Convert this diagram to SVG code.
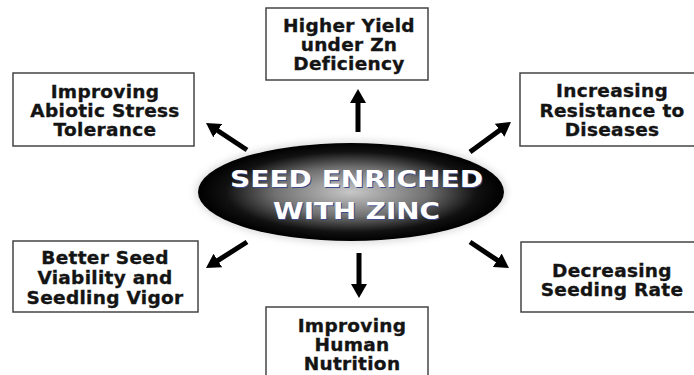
<svg xmlns="http://www.w3.org/2000/svg" width="694" height="375" viewBox="0 0 694 375">
<style>
.box{fill:#fff;stroke:#444;stroke-width:1.5}
.lbl{font-family:"DejaVu Sans","Verdana",sans-serif;font-weight:bold;font-size:18.5px;fill:#141414;stroke:#141414;stroke-width:0.35;text-anchor:middle;letter-spacing:0.3px}
.ctr{font-family:"DejaVu Sans","Verdana",sans-serif;font-weight:bold;font-size:23.5px;text-anchor:middle}
.arr{stroke:#000;stroke-width:5;fill:none;marker-end:url(#head)}
</style>
<defs>
<radialGradient id="g" cx="50%" cy="50%" r="50%">
<stop offset="0" stop-color="#c8c8c8"/>
<stop offset="0.5" stop-color="#707070"/>
<stop offset="0.82" stop-color="#111"/>
<stop offset="1" stop-color="#000"/>
</radialGradient>
<filter id="blur" x="-10%" y="-20%" width="120%" height="140%"><feGaussianBlur stdDeviation="3"/></filter>
<marker id="head" markerUnits="userSpaceOnUse" markerWidth="14" markerHeight="16" viewBox="0 0 14 16" refX="3" refY="8" orient="auto">
<path d="M0,0 L14,8 L0,16 z" fill="#000"/>
</marker>
</defs>
<rect width="694" height="375" fill="#fff"/>
<g id="connectors">
<line class="arr" x1="358" y1="132" x2="358" y2="100"/>
<line class="arr" x1="359" y1="253" x2="359" y2="287"/>
<line class="arr" x1="247" y1="150" x2="215.2" y2="129"/>
<line class="arr" x1="470" y1="152" x2="502.1" y2="128.5"/>
<line class="arr" x1="247" y1="242" x2="215.3" y2="262.1"/>
<line class="arr" x1="470" y1="242" x2="499.8" y2="261.9"/>
</g>
<g id="center">
<ellipse cx="351" cy="192" rx="156" ry="52" fill="#ccc" filter="url(#blur)" opacity="0.6"/>
<ellipse cx="351" cy="192" rx="153" ry="49" fill="url(#g)"/>
<text class="ctr" x="357.5" y="188" fill="#3a4a8a" textLength="253" lengthAdjust="spacingAndGlyphs">SEED ENRICHED</text>
<text class="ctr" x="357.5" y="219.5" fill="#3a4a8a" textLength="167" lengthAdjust="spacingAndGlyphs">WITH ZINC</text>
<text class="ctr" x="356.5" y="187" fill="#fff" textLength="253" lengthAdjust="spacingAndGlyphs">SEED ENRICHED</text>
<text class="ctr" x="356.5" y="218.5" fill="#fff" textLength="167" lengthAdjust="spacingAndGlyphs">WITH ZINC</text>
</g>
<g id="n-top">
<rect class="box" x="266" y="8" width="162" height="72"/>
<text class="lbl" x="349" y="32">Higher Yield</text>
<text class="lbl" x="349" y="51">under Zn</text>
<text class="lbl" x="349" y="70">Deficiency</text>
</g>
<g id="n-upleft">
<rect class="box" x="13" y="73" width="181" height="73"/>
<text class="lbl" x="105" y="98">Improving</text>
<text class="lbl" x="105" y="117">Abiotic Stress</text>
<text class="lbl" x="105" y="136">Tolerance</text>
</g>
<g id="n-upright">
<rect class="box" x="520" y="73" width="180" height="73"/>
<text class="lbl" x="612" y="97">Increasing</text>
<text class="lbl" x="612" y="117">Resistance to</text>
<text class="lbl" x="612" y="136">Diseases</text>
</g>
<g id="n-lowleft">
<rect class="box" x="13" y="241" width="185" height="71"/>
<text class="lbl" x="105" y="264">Better Seed</text>
<text class="lbl" x="105" y="284">Viability and</text>
<text class="lbl" x="105" y="304">Seedling Vigor</text>
</g>
<g id="n-lowright">
<rect class="box" x="521" y="242" width="180" height="70"/>
<text class="lbl" x="612" y="277">Decreasing</text>
<text class="lbl" x="612" y="296">Seeding Rate</text>
</g>
<g id="n-bottom">
<rect class="box" x="266" y="307" width="162" height="80"/>
<text class="lbl" x="352" y="332">Improving</text>
<text class="lbl" x="352" y="351">Human</text>
<text class="lbl" x="352" y="370">Nutrition</text>
</g>
</svg>
